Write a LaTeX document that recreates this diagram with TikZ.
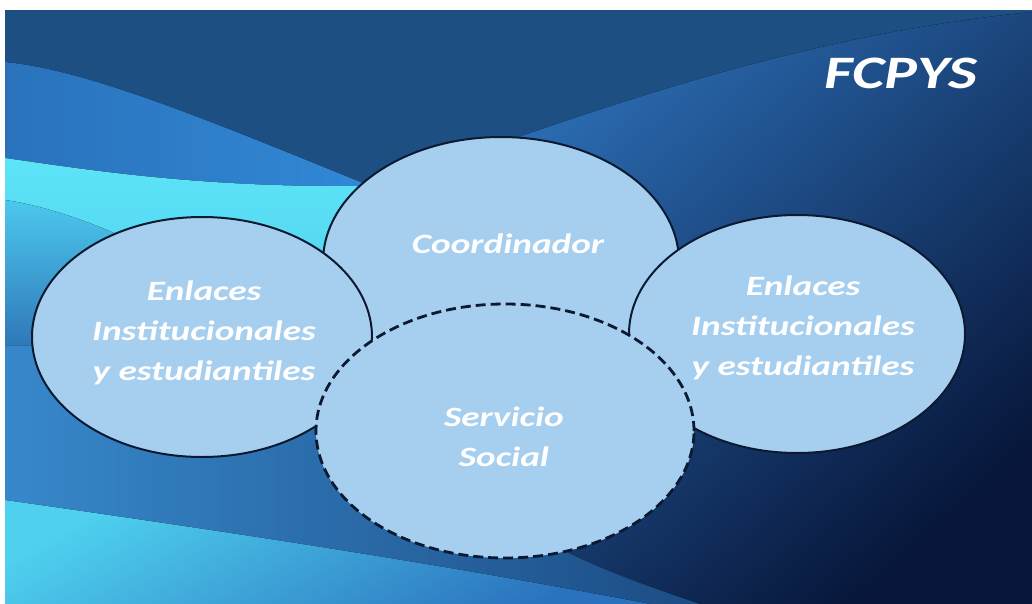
\documentclass[tikz,border=0pt]{standalone}
\usepackage{fontspec}
\setmainfont{Carlito}
\usepackage{graphicx}
\usetikzlibrary{shapes.geometric}
\definecolor{bubblefill}{RGB}{166,206,239}
\definecolor{edgec}{HTML}{0B1A30}
\definecolor{bgtop}{HTML}{1E4F82}
\definecolor{trA}{HTML}{2B6CB2}
\definecolor{trB}{HTML}{0F3060}
\definecolor{trC}{HTML}{07163A}
\definecolor{llA}{HTML}{3788CB}
\definecolor{llB}{HTML}{1C4C84}
\definecolor{wvA}{HTML}{2A72BC}
\definecolor{wvB}{HTML}{3189D6}
\definecolor{cyA}{HTML}{5DE4F7}
\definecolor{cyB}{HTML}{4FCFEF}
\definecolor{wdA}{HTML}{4CC8EE}
\definecolor{wdB}{HTML}{2F78B8}
\definecolor{bdA}{HTML}{4ED0EE}
\definecolor{bdB}{HTML}{2B72BE}
\newcommand{\widetext}[1]{\scalebox{1.33}[1]{\begin{tabular}{@{}c@{}}#1\end{tabular}}}
\tikzset{
  bubble/.style={ellipse, draw=edgec, line width=2pt, fill=bubblefill, inner sep=0pt, outer sep=0pt},
  dashbubble/.style={bubble, line width=2.8pt, dash pattern=on 10pt off 5pt},
  lbltext/.style={text=white, font=\fontsize{28}{40}\selectfont\bfseries\itshape, inner sep=0pt},
  titletext/.style={text=white, font=\fontsize{46.5}{56}\selectfont\bfseries\itshape, inner sep=0pt},
}
\begin{document}
\begin{tikzpicture}[x=1pt,y=-1pt]
\useasboundingbox (0,0) rectangle (1032,604);
% background
\fill[bgtop] (5,10) rectangle (1032,604);
\fill[top color=trA, middle color=trB, bottom color=trC, shading angle=42]
  (480,150) .. controls (600,110) and (800,35) .. (1032,12) -- (1032,604) -- (480,604) -- cycle;
\fill[left color=llA, right color=llB]
  (5,330) -- (450,330) -- (450,470) .. controls (520,540) and (600,570) .. (700,604) -- (5,604) -- cycle;
\fill[left color=wvA, right color=wvB]
  (5,62) .. controls (90,70) and (220,125) .. (380,190) -- (380,260) -- (5,260) -- cycle;
\fill[top color=cyA, bottom color=cyB]
  (5,158) .. controls (120,175) and (220,188) .. (380,186) -- (380,345) -- (5,345) -- cycle;
\fill[top color=wdA, bottom color=wdB]
  (5,200) .. controls (60,208) and (150,240) .. (230,300) -- (230,345) -- (5,345) -- cycle;
\fill[top color=bdA, bottom color=bdB, shading angle=30]
  (5,500) .. controls (200,528) and (420,560) .. (650,604) -- (5,604) -- cycle;
% ellipses
\node[bubble, minimum width=356pt, minimum height=250pt] (coord) at (501,262) {};
\node[bubble, minimum width=340pt, minimum height=240pt] (left) at (202,337) {};
\node[bubble, minimum width=336pt, minimum height=238pt] (right) at (797,334) {};
\node[dashbubble, minimum width=378pt, minimum height=254pt] (serv) at (505,431) {};
% texts
\node[lbltext] (tcoord) at (508,245) {\widetext{Coordinador}};
\node[lbltext] (tleft) at (204,332) {\widetext{Enlaces\\Institucionales\\y estudiantiles}};
\node[lbltext] (tright) at (803,327) {\widetext{Enlaces\\Institucionales\\y estudiantiles}};
\node[lbltext] (tserv) at (504,438) {\widetext{Servicio\\Social}};
\node[titletext] (title) at (901,77) {\widetext{FCPYS}};
\end{tikzpicture}
\end{document}
